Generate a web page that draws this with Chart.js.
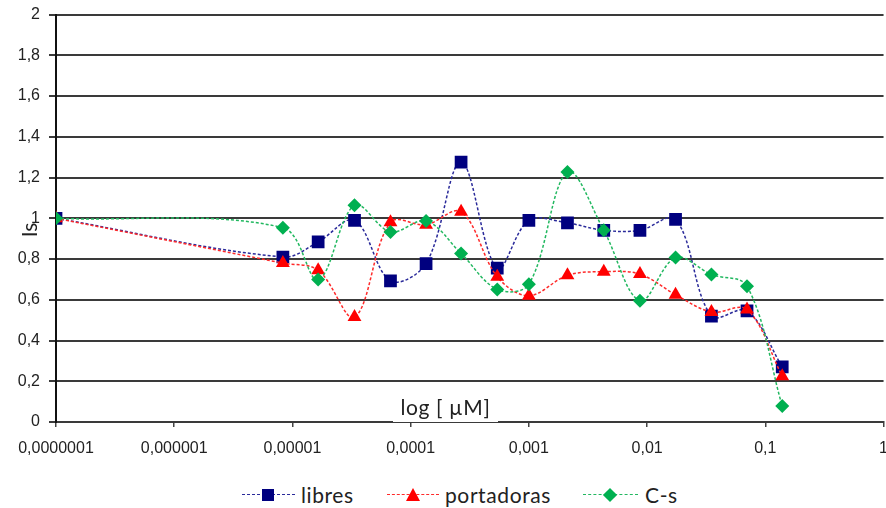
<!DOCTYPE html>
<html><head><meta charset="utf-8">
<script src="https://cdn.jsdelivr.net/npm/chart.js@4"></script>
<style>
html,body{margin:0;padding:0;background:#fff;}
body{width:886px;height:508px;overflow:hidden;position:relative;}
#wrap{position:absolute;left:0;top:-4px;width:900px;height:474px;}
.t{position:absolute;color:#222;font-family:Lato,'Open Sans',sans-serif;font-size:20px;line-height:20px;white-space:nowrap;}
#xt{left:393px;top:395px;width:105px;height:27px;background:#fff;text-align:center;line-height:24px;font-size:21px;letter-spacing:0.6px;}
#yt{left:19px;top:220px;width:20px;height:20px;text-align:center;transform:rotate(-90deg);font-size:21px;}
.lline{position:absolute;height:0;border-top:1.5px dashed;}
.mk{position:absolute;}
</style></head><body>
<div id="wrap"><canvas id="c" width="900" height="474"></canvas></div>
<div id="xt" class="t">log [ µM]</div>
<div id="yt" class="t">Is</div>
<div id="legend"></div>
<script>
// ---- data ----
const xValues = [0.0000001, 0.0000083, 0.0000165, 0.0000335, 0.0000675, 0.000135, 0.000267, 0.00054, 0.001, 0.00212, 0.0043, 0.0087, 0.0174, 0.035, 0.07, 0.139];
const libres     = [1.0, 0.81, 0.884, 0.99, 0.693, 0.778, 1.276, 0.755, 0.99, 0.977, 0.941, 0.941, 0.995, 0.52, 0.546, 0.271];
const portadoras = [1.0, 0.78, 0.745, 0.515, 0.98, 0.968, 1.032, 0.713, 0.62, 0.72, 0.738, 0.726, 0.625, 0.54, 0.552, 0.225];
const cs         = [1.0, 0.954, 0.699, 1.064, 0.933, 0.987, 0.827, 0.651, 0.676, 1.227, 0.941, 0.595, 0.807, 0.724, 0.667, 0.078];
const seriesNames = ['libres', 'portadoras', 'C-s'];
const xTickValues = [0.0000001, 0.000001, 0.00001, 0.0001, 0.001, 0.01, 0.1, 1];
const xTickLabels = ['0,0000001', '0,000001', '0,00001', '0,0001', '0,001', '0,01', '0,1', '1'];
const yTickLabels = ['0', '0,2', '0,4', '0,6', '0,8', '1', '1,2', '1,4', '1,6', '1,8', '2'];

const colors = ['#00007f', '#ff0000', '#00b050'];
const lineColors = ['#2a2a9a', '#ff2a2a', '#22b860'];
const styles = ['rect', 'triangle', 'rectRot'];
const radii = [9, 8, 7];
const seriesValues = [libres, portadoras, cs];

const datasets = seriesValues.map((vals, k) => ({
  label: seriesNames[k],
  data: vals.map((v, i) => ({x: xValues[i], y: v})),
  borderColor: lineColors[k],
  backgroundColor: colors[k],
  borderWidth: 1.5,
  borderDash: [3, 2],
  tension: 0.35,
  pointStyle: styles[k],
  pointRadius: radii[k],
  pointBorderWidth: 0,
  pointBackgroundColor: colors[k],
  pointBorderColor: colors[k],
  order: 3 - k,
  fill: false
}));

Chart.defaults.font.family = "'Liberation Sans', Arial, sans-serif";
new Chart(document.getElementById('c'), {
  type: 'line',
  data: {datasets},
  options: {
    responsive: false,
    devicePixelRatio: 1,
    animation: false,
    layout: {padding: {left: 0, right: 15, top: 10, bottom: 0}},
    plugins: {legend: {display: false}, tooltip: {enabled: false}},
    scales: {
      x: {
        type: 'logarithmic',
        min: 0.0000001, max: 1,
        afterBuildTicks: s => { s.ticks = xTickValues.map(v => ({value: v, major: true})); },
        afterFit: s => { s.height = 48; },
        ticks: {
          autoSkip: false, maxRotation: 0, padding: 12,
          color: '#222', font: {size: 16},
          callback: (v, i) => xTickLabels[i]
        },
        grid: {drawOnChartArea: false, drawTicks: true, tickLength: 5, color: '#444', lineWidth: 1.5},
        border: {display: true, color: '#3a3a3a', width: 2}
      },
      y: {
        min: 0, max: 2,
        afterFit: s => { s.width = 56; },
        ticks: {
          stepSize: 0.2, padding: 9, color: '#222', font: {size: 16},
          callback: (v, i) => yTickLabels[i]
        },
        grid: {color: '#3a3a3a', lineWidth: 2, tickLength: 7, drawTicks: true},
        border: {display: true, color: '#111', width: 2}
      }
    }
  }
});

// ---- HTML legend ----
const legendLayout = [
  {line: [242, 295], mark: 268, text: 301},
  {line: [387, 439], mark: 413, text: 445},
  {line: [583, 638], mark: 610, text: 645}
];
const lg = document.getElementById('legend');
seriesNames.forEach((name, k) => {
  const L = legendLayout[k];
  const ln = document.createElement('div');
  ln.className = 'lline';
  ln.style.left = L.line[0] + 'px';
  ln.style.width = (L.line[1] - L.line[0]) + 'px';
  ln.style.top = '494px';
  ln.style.borderTopColor = lineColors[k];
  lg.appendChild(ln);
  const m = document.createElement('div');
  m.className = 'mk';
  if (k === 0) {
    Object.assign(m.style, {left: (L.mark - 6) + 'px', top: '489px', width: '12px', height: '12px', background: colors[k]});
  } else if (k === 1) {
    Object.assign(m.style, {left: (L.mark - 7.5) + 'px', top: '488px', width: 0, height: 0,
      borderLeft: '7.5px solid transparent', borderRight: '7.5px solid transparent', borderBottom: '13px solid ' + colors[k]});
  } else {
    Object.assign(m.style, {left: (L.mark - 5) + 'px', top: '490px', width: '10px', height: '10px', background: colors[k], transform: 'rotate(45deg)'});
  }
  lg.appendChild(m);
  const t = document.createElement('div');
  t.className = 't';
  t.textContent = name;
  t.style.left = L.text + 'px';
  t.style.top = '485px';
  t.style.letterSpacing = '0.6px';
  t.style.fontSize = '21px';
  lg.appendChild(t);
});
</script>
</body></html>
